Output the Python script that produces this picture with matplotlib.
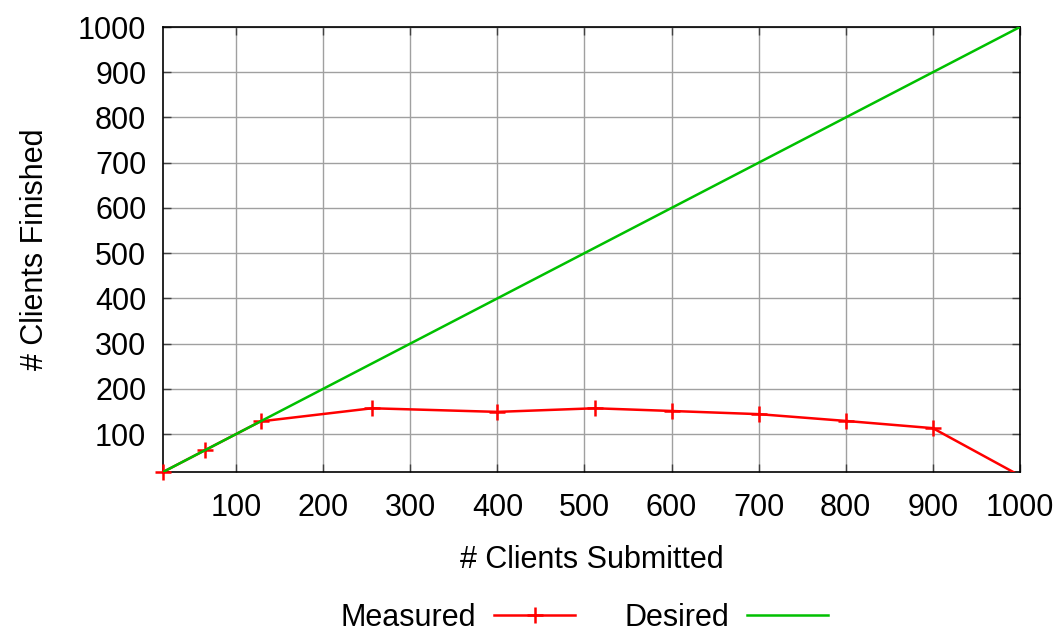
import matplotlib
matplotlib.use("Agg")
import matplotlib.pyplot as plt
from matplotlib.lines import Line2D

plt.rcParams["font.family"] = ["Liberation Sans", "DejaVu Sans"]

# --- data ---
submitted = [16, 64, 128, 256, 400, 512, 600, 700, 800, 900, 1000]
finished = [16, 64, 128, 157, 149, 157, 151, 144, 129, 113, 8]
desired_x = [16, 1000]
desired_y = [16, 1000]
ticks = [100, 200, 300, 400, 500, 600, 700, 800, 900, 1000]

RED = "#ff0000"
GREEN = "#00c000"
FS = 22

fig = plt.figure(figsize=(10.57, 6.33), dpi=100)
ax = fig.add_axes([0.1542, 0.2543, 0.8107, 0.7030])

ax.plot(submitted, finished, color=RED, lw=1.8, zorder=3)
# markers drawn unclipped so the corner point shows fully
mx = [x for x, y in zip(submitted, finished) if y >= 16]
my = [y for y in finished if y >= 16]
ax.plot(mx, my, ls="none", marker="+", ms=11, mew=1.8, color=RED,
        clip_on=False, zorder=4)
ax.plot(desired_x, desired_y, color=GREEN, lw=1.8, zorder=5)

ax.set_xlim(16, 1000)
ax.set_ylim(16, 1000)
ax.set_xticks(ticks)
ax.set_yticks(ticks)
ax.tick_params(axis="x", direction="in", length=6, width=1, color="#404040",
               top=True, labelsize=FS, pad=15)
ax.tick_params(axis="y", direction="in", length=6, width=1, color="#404040",
               right=True, labelsize=FS, pad=12)
ax.grid(True, color="#a0a0a0", lw=1)
for s in ax.spines.values():
    s.set_linewidth(1.2)

ax.set_xlabel("# Clients Submitted", fontsize=FS, labelpad=16)
ax.set_ylabel("# Clients Finished", fontsize=FS, labelpad=20)

handles = [
    Line2D([], [], color=RED, lw=1.8, marker="+", ms=11, mew=1.8),
    Line2D([], [], color=GREEN, lw=1.8),
]
fig.legend(handles, ["Measured", "Desired"], loc="center",
           bbox_to_anchor=(0.553, 0.024), ncol=2, frameon=False,
           fontsize=FS, markerfirst=False, numpoints=1, handlelength=2.65,
           columnspacing=1.6, handletextpad=0.6, borderaxespad=0)

fig.savefig("out.png", dpi=100)
